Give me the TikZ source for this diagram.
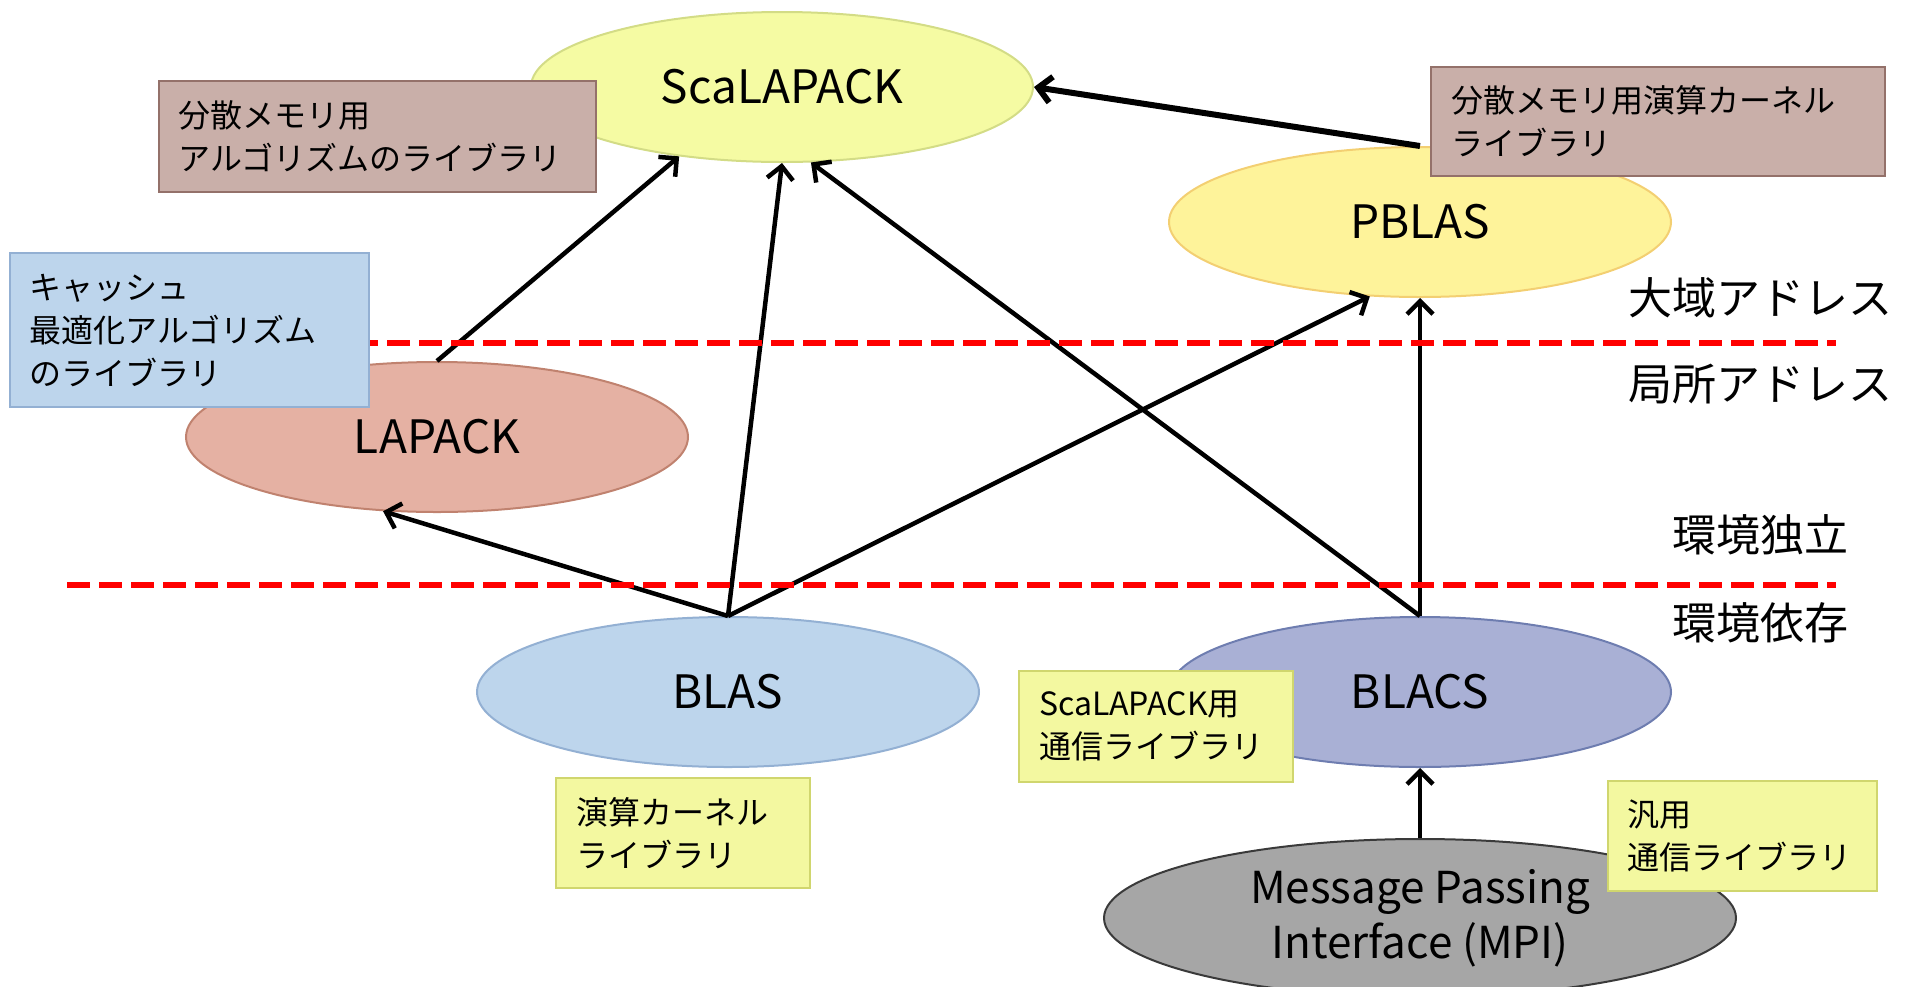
\documentclass[tikz,border=0pt]{standalone}
\usepackage{fontspec}
\setmainfont{Noto Sans CJK JP}
\usetikzlibrary{
    shapes.geometric,
    positioning,
    arrows.meta
}
\definecolor{scalafill}{HTML}{F5FBA3}
\definecolor{scaladraw}{HTML}{D3DC86}
\definecolor{pblasfill}{HTML}{FEF39A}
\definecolor{pblasdraw}{HTML}{F3CF72}
\definecolor{lapackfill}{HTML}{E5B1A3}
\definecolor{lapackdraw}{HTML}{C0826F}
\definecolor{blasfill}{HTML}{BDD5EC}
\definecolor{blasdraw}{HTML}{93B0D3}
\definecolor{blacsfill}{HTML}{A9B0D5}
\definecolor{blacsdraw}{HTML}{6E7DB0}
\definecolor{mpifill}{HTML}{A6A6A6}
\definecolor{mpidraw}{HTML}{3A3A3A}
\definecolor{brownfill}{HTML}{C9AFA9}
\definecolor{browndraw}{HTML}{94716A}
\definecolor{yellowfill}{HTML}{F3F8A0}
\definecolor{yellowdraw}{HTML}{D0D66E}
\tikzset{
    >={Straight Barb[length=13pt,width=26pt]},
    libnode/.style={
        ellipse,
        draw,
        line width=2pt,
        minimum width=502pt,
        minimum height=150pt,
        inner sep=0pt,
        align=center,
        font=\fontsize{46}{55}\selectfont
    },
    notebox/.style={
        rectangle,
        draw,
        line width=2pt,
        inner xsep=20pt,
        inner ysep=0pt,
        align=left,
        font=\fontsize{32}{43}\selectfont
    },
    layerlabel/.style={font=\fontsize{44}{54}\selectfont},
    depends/.style={->, line width=4.5pt},
    levelline/.style={red, line width=6pt, dash pattern=on 23pt off 9pt}
}

\begin{document}
\begin{tikzpicture}[
    x=1pt,
    y=-1pt,
    on grid
]
    \useasboundingbox (0,0) rectangle (1907,986);

    % Libraries
    \node[libnode, fill=scalafill, draw=scaladraw] (scalapack) at (782,87) {ScaLAPACK};
    \node[libnode, fill=pblasfill, draw=pblasdraw] (pblas) [below right=135pt and 638pt of scalapack] {PBLAS};
    \node[libnode, fill=blacsfill, draw=blacsdraw] (blacs) [below=470pt of pblas] {BLACS};
    \node[libnode, fill=mpifill, draw=mpidraw, minimum width=632pt, minimum height=158pt, font=\fontsize{44}{55}\selectfont] (mpi) [below=226pt of blacs] {Message Passing\\Interface (MPI)};
    \node[libnode, fill=blasfill, draw=blasdraw] (blas) [left=692pt of blacs] {BLAS};
    \node[libnode, fill=lapackfill, draw=lapackdraw] (lapack) [above left=255pt and 291pt of blas] {LAPACK};

    % Dependencies
    \draw[depends] (lapack.north) -- (scalapack.214);
    \draw[depends] (blas.north) -- (scalapack.south);
    \draw[depends] (blacs.north) -- (scalapack.291);
    \draw[depends] (blas.north) -- (lapack.234);
    \draw[depends] (blas.north) -- (pblas.236);
    \draw[depends] (blacs.north) -- (pblas.south);
    \draw[depends, line width=6pt] (pblas.north) -- (scalapack.east);
    \draw[depends] (mpi.north) -- (blacs.south);

    % Levels
    \draw[levelline] (67,343) -- (1836,343);
    \draw[levelline] (67,585) -- (1836,585);

    % Notes
    \node[notebox, fill=brownfill, draw=browndraw, text width=397pt, minimum height=111pt] (distalg) at (377,136) {分散メモリ用\\アルゴリズムのライブラリ};
    \node[notebox, fill=brownfill, draw=browndraw, text width=414pt, minimum height=109pt] (distkern) at (1658,121) {分散メモリ用演算カーネル\\ライブラリ};
    \node[notebox, fill=blasfill, draw=blasdraw, text width=319pt, minimum height=154pt] (cachealg) at (189,330) {キャッシュ\\最適化アルゴリズム\\のライブラリ};
    \node[notebox, fill=yellowfill, draw=yellowdraw, text width=214pt, minimum height=110pt] (kernel) [below left=141pt and 45pt of blas] {演算カーネル\\ライブラリ};
    \node[notebox, fill=yellowfill, draw=yellowdraw, text width=234pt, minimum height=111pt] (scacomm) [below left=34pt and 264pt of blacs] {ScaLAPACK用\\通信ライブラリ};
    \node[notebox, fill=yellowfill, draw=yellowdraw, text width=229pt, minimum height=110pt] (gencomm) at (1742,836) {汎用\\通信ライブラリ};

    % Address and environment
    \node[layerlabel] (global) at (1760,298) {大域アドレス};
    \node[layerlabel] (local) at (1760,384) {局所アドレス};
    \node[layerlabel] (indep) at (1760,535) {環境独立};
    \node[layerlabel] (dep) at (1760,623) {環境依存};

\end{tikzpicture}
\end{document}
